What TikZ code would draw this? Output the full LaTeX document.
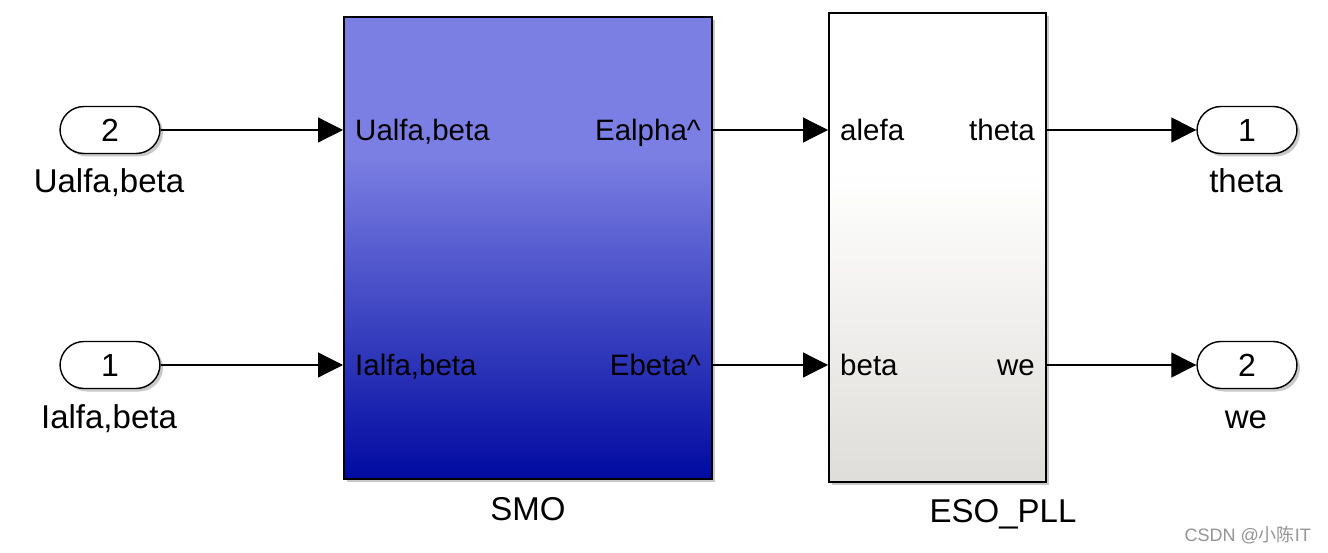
\documentclass[tikz,border=0pt]{standalone}
\usepackage{fontspec}
\setmainfont{Liberation Sans}
\newfontfamily\cjkfont{Noto Sans CJK SC}
\usetikzlibrary{arrows.meta,shadows}
\definecolor{smotop}{HTML}{7B7FE3}
\definecolor{smobot}{HTML}{000AA0}
\definecolor{esotop}{HTML}{FFFFFF}
\definecolor{esobot}{HTML}{DFDDD9}
\pgfdeclareverticalshading{smoshade}{100bp}{color(0bp)=(smobot); color(25bp)=(smobot); color(60bp)=(smotop); color(100bp)=(smotop)}
\pgfdeclareverticalshading{esoshade}{100bp}{color(0bp)=(esobot); color(25bp)=(esobot); color(58bp)=(esotop); color(100bp)=(esotop)}
\tikzset{
  sh/.style={drop shadow={shadow xshift=3pt, shadow yshift=-3pt, opacity=0.35, fill=black!60}},
  port/.style={draw, line width=1.4pt, fill=white, rounded corners=24pt, minimum width=100pt, minimum height=47pt, inner sep=0pt, font=\fontsize{32}{34}\selectfont, sh},
  lbl/.style={font=\fontsize{29.5}{32}\selectfont, inner sep=0pt},
  big/.style={font=\fontsize{33}{36}\selectfont, inner sep=0pt, anchor=base},
  block/.style={draw, line width=2pt, inner sep=0pt, sh},
  conn/.style={line width=1.2pt, -{Triangle[length=25pt,width=25pt]}},
}
\begin{document}
\begin{tikzpicture}[x=1pt,y=-1pt]
\useasboundingbox[fill=white] (0,0) rectangle (1328,553);
% blocks
\node[block, shading=smoshade, minimum width=368pt, minimum height=462pt] (smo) at (528,248) {};
\node[block, shading=esoshade, minimum width=217pt, minimum height=469pt] (eso) at (937.5,247.5) {};
\node[big] (smoname) at (528,520) {SMO};
\node[big] (esoname) at (1003,522) {ESO\_PLL};
% ports
\node[port] (in2) at (110,130) {2};
\node[big] (in2l) at (109,193) {Ualfa,beta};
\node[port] (in1) at (110,365) {1};
\node[big] (in1l) at (109,428) {Ialfa,beta};
\node[port] (out1) at (1247,130) {1};
\node[big] (out1l) at (1246,193) {theta};
\node[port] (out2) at (1247,365) {2};
\node[big] (out2l) at (1246,428) {we};
% port labels
\node[lbl, anchor=base west] (smoi1) at (355,141) {Ualfa,beta};
\node[lbl, anchor=base west] (smoi2) at (355,375) {Ialfa,beta};
\node[lbl, anchor=base east] (smoo1) at (701,141) {Ealpha\^{}};
\node[lbl, anchor=base east] (smoo2) at (701,375) {Ebeta\^{}};
\node[lbl, anchor=base west] (esoi1) at (840,141) {alefa};
\node[lbl, anchor=base west] (esoi2) at (840,375) {beta};
\node[lbl, anchor=base east] (esoo1) at (1035,141) {theta};
\node[lbl, anchor=base east] (esoo2) at (1035,375) {we};
% connectors
\draw[conn] (in2.east) -- (smo.west |- in2.east);
\draw[conn] (in1.east) -- (smo.west |- in1.east);
\draw[conn] (smo.east |- in2.east) -- (eso.west |- in2.east);
\draw[conn] (smo.east |- in1.east) -- (eso.west |- in1.east);
\draw[conn] (eso.east |- out1.west) -- (out1.west);
\draw[conn] (eso.east |- out2.west) -- (out2.west);
% watermark
\node[font=\fontsize{18}{20}\selectfont, text=black!42, anchor=east, inner sep=0pt] (wm) at (1311,535) {CSDN @{\cjkfont 小陈}IT};
\end{tikzpicture}
\end{document}
